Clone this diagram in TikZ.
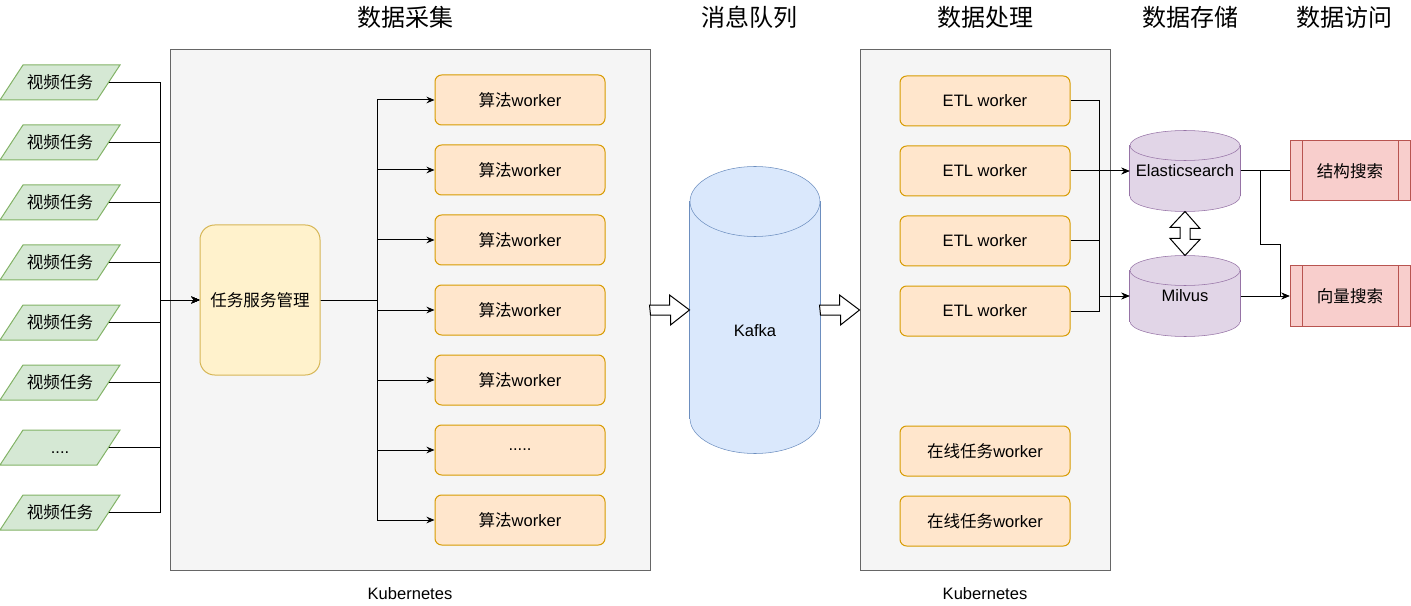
\documentclass[tikz,border=0pt]{standalone}
\usepackage{fontspec}
\setmainfont{Liberation Sans}
\newfontfamily\cjk{Noto Sans CJK SC}
\usepackage{tikz}
\usepackage{xcolor}
\usetikzlibrary{positioning, shapes, arrows.meta, calc, backgrounds}

\definecolor{taskfill}{HTML}{D5E8D4}
\definecolor{taskline}{HTML}{82B366}
\definecolor{clusterfill}{HTML}{F5F5F5}
\definecolor{clusterline}{HTML}{666666}
\definecolor{managerfill}{HTML}{FFF2CC}
\definecolor{managerline}{HTML}{D6B656}
\definecolor{workerfill}{HTML}{FFE6CC}
\definecolor{workerline}{HTML}{D79B00}
\definecolor{queuefill}{HTML}{DAE8FC}
\definecolor{queueline}{HTML}{6C8EBF}
\definecolor{storefill}{HTML}{E1D5E7}
\definecolor{storeline}{HTML}{9673A6}
\definecolor{searchfill}{HTML}{F8CECC}
\definecolor{searchline}{HTML}{B85450}

% cylinder behind a named node: node, x radius, y radius, fill, line
\newcommand{\dbcyl}[5]{%
    \filldraw[fill=#4, draw=#5] ($(#1.south)+(0,-#3)$) ellipse[x radius=#2, y radius=#3];
    \fill[#4] ($(#1.south west)+(0,-#3)$) rectangle ($(#1.north east)+(0,#3)$);
    \draw[#5] ($(#1.south west)+(0,-#3)$) -- ($(#1.north west)+(0,#3)$);
    \draw[#5] ($(#1.south east)+(0,-#3)$) -- ($(#1.north east)+(0,#3)$);
    \filldraw[fill=#4, draw=#5] ($(#1.north)+(0,#3)$) ellipse[x radius=#2, y radius=#3];
}

\begin{document}
\begin{tikzpicture}[
            x=0.75pt, y=-0.75pt,
            line width=0.75pt,
            font=\fontsize{12.4}{15}\selectfont,
            heading/.style={font=\cjk\fontsize{18}{21}\selectfont},
            cluster/.style={rectangle, draw=clusterline, fill=clusterfill, inner sep=0pt},
            task/.style={trapezium, trapezium left angle=56.7, trapezium right angle=123.3,
                trapezium stretches body=true, draw=taskline, fill=taskfill,
                text height=17.8pt, text depth=8.45pt,
                minimum width=90pt, minimum height=26.25pt, inner sep=0pt},
            manager/.style={rectangle, rounded corners=11pt, draw=managerline, fill=managerfill,
                minimum width=90pt, minimum height=112.5pt, inner sep=0pt},
            worker/.style={rectangle, rounded corners=5pt, draw=workerline, fill=workerfill,
                minimum width=127.5pt, minimum height=37.5pt, inner sep=0pt},
            store/.style={rectangle, inner sep=0pt, minimum width=82.5pt, minimum height=60pt},
            search/.style={rectangle, draw=searchline, fill=searchfill,
                minimum width=90pt, minimum height=45pt, inner sep=0pt,
                path picture={
                    \draw[searchline] ([xshift=9pt]path picture bounding box.north west)
                        -- ([xshift=9pt]path picture bounding box.south west)
                        ([xshift=-9pt]path picture bounding box.north east)
                        -- ([xshift=-9pt]path picture bounding box.south east);
                }},
            link/.style={draw=black},
            linkarrow/.style={draw=black, -{Stealth[length=6pt, width=5pt]}},
            bigarrow/.style={draw=black, fill=white, line join=miter},
        ]
            \useasboundingbox (0,0) rectangle (1411,606);

            % clusters and titles
            \node[cluster, minimum width=360pt, minimum height=390pt] (collect) at (410,310) {};
            \node[cluster, minimum width=187.5pt, minimum height=390pt] (process) at (985,310) {};
            \node[below=9pt of collect] (kubecollect) {Kubernetes};
            \node[below=9pt of process] (kubeprocess) {Kubernetes};

            \node[heading] (hcollect) at (405,17) {数据采集};
            \node[heading] (hqueue) at (749,17) {消息队列};
            \node[heading] (hprocess) at (985,17) {数据处理};
            \node[heading] (hstore) at (1190,17) {数据存储};
            \node[heading] (haccess) at (1344,17) {数据访问};

            % video tasks
            \node[task] (task1) at (60,82.5) {\cjk 视频任务};
            \node[task] (task2) at (60,142.5) {\cjk 视频任务};
            \node[task] (task3) at (60,202.5) {\cjk 视频任务};
            \node[task] (task4) at (60,262.5) {\cjk 视频任务};
            \node[task] (task5) at (60,322.5) {\cjk 视频任务};
            \node[task] (task6) at (60,382.5) {\cjk 视频任务};
            \node[task] (task7) at (60,447.5) {....};
            \node[task] (task8) at (60,512.5) {\cjk 视频任务};

            % collection
            \node[manager] (manager) at (260,300) {\cjk 任务服务管理};
            \node[worker] (algo1) at (520,100) {{\cjk 算法}worker};
            \node[worker] (algo2) at (520,170) {{\cjk 算法}worker};
            \node[worker] (algo3) at (520,240) {{\cjk 算法}worker};
            \node[worker] (algo4) at (520,310) {{\cjk 算法}worker};
            \node[worker] (algo5) at (520,380) {{\cjk 算法}worker};
            \node[worker] (algo6) at (520,450) {.....};
            \node[worker] (algo7) at (520,520) {{\cjk 算法}worker};

            % queue
            \node[rectangle, inner sep=0pt, minimum width=97.5pt, minimum height=214.5pt,
                label={[yshift=-15.75pt]center:Kafka}] (kafka) at (755,310) {};

            % processing
            \node[worker] (etl1) at (985,101) {ETL worker};
            \node[worker] (etl2) at (985,171) {ETL worker};
            \node[worker] (etl3) at (985,241) {ETL worker};
            \node[worker] (etl4) at (985,311) {ETL worker};
            \node[worker] (online1) at (985,451) {{\cjk 在线任务}worker};
            \node[worker] (online2) at (985,521) {{\cjk 在线任务}worker};

            % storage and access
            \node[store] (es) at (1185,171) {Elasticsearch};
            \node[store] (milvus) at (1185,296) {Milvus};
            \node[search] (structsearch) at (1350,171) {\cjk 结构搜索};
            \node[search] (vectorsearch) at (1350,296) {\cjk 向量搜索};

            \begin{scope}[on background layer]
                \dbcyl{kafka}{65}{35}{queuefill}{queueline}
                \dbcyl{es}{55}{15}{storefill}{storeline}
                \dbcyl{milvus}{55}{15}{storefill}{storeline}
            \end{scope}

            % tasks to manager
            \coordinate (taskbus) at (160,300);
            \draw[linkarrow] (task1.east) -| (taskbus) -- (manager.west);
            \draw[linkarrow] (task2.east) -| (taskbus) -- (manager.west);
            \draw[linkarrow] (task3.east) -| (taskbus) -- (manager.west);
            \draw[linkarrow] (task4.east) -| (taskbus) -- (manager.west);
            \draw[linkarrow] (task5.east) -| (taskbus) -- (manager.west);
            \draw[linkarrow] (task6.east) -| (taskbus) -- (manager.west);
            \draw[linkarrow] (task7.east) -| (taskbus) -- (manager.west);
            \draw[linkarrow] (task8.east) -| (taskbus) -- (manager.west);

            % manager to workers
            \coordinate (algobus) at (377,300);
            \draw[linkarrow] (manager.east) -- (algobus) |- (algo1.west);
            \draw[linkarrow] (manager.east) -- (algobus) |- (algo2.west);
            \draw[linkarrow] (manager.east) -- (algobus) |- (algo3.west);
            \draw[linkarrow] (manager.east) -- (algobus) |- (algo4.west);
            \draw[linkarrow] (manager.east) -- (algobus) |- (algo5.west);
            \draw[linkarrow] (manager.east) -- (algobus) |- (algo6.west);
            \draw[linkarrow] (manager.east) -- (algobus) |- (algo7.west);

            % block arrows through the queue
            \draw[bigarrow] (collect.east) ++(0,5) -- ++(20,0) -- ++(0,10) -- (kafka.west)
                -- ++(-20,-15) -- ++(0,10) -- ++(-20,0) -- cycle;
            \draw[bigarrow] (kafka.east) ++(0,5) -- ++(20,0) -- ++(0,10) -- (process.west)
                -- ++(-20,-15) -- ++(0,10) -- ++(-20,0) -- cycle;

            % etl to storage
            \draw[linkarrow] (etl1.east) -| ($(milvus.west)+(-30,0)$) -- (milvus.west);
            \draw[linkarrow] (etl2.east) -- (es.west);
            \draw[linkarrow] (etl3.east) -| ($(es.west)+(-30,0)$) -- (es.west);
            \draw[linkarrow] (etl4.east) -| ($(milvus.west)+(-30,0)$) -- (milvus.west);

            % sync between stores
            \draw[bigarrow] (es.south) -- ++(15,17) -- ++(-10,0) -- ++(0,11) -- ++(10,0)
                -- (milvus.north) -- ++(-15,-17) -- ++(10,0) -- ++(0,-11) -- ++(-10,0) -- cycle;

            % storage to access
            \draw[link] (es.east) -- (structsearch.west);
            \draw[linkarrow] (es.east) -- ++(20,0) -- ++(0,74) -- ++(20,0) |- (vectorsearch.west);
            \draw[linkarrow] (milvus.east) -- (vectorsearch.west);
        \end{tikzpicture}
\end{document}
